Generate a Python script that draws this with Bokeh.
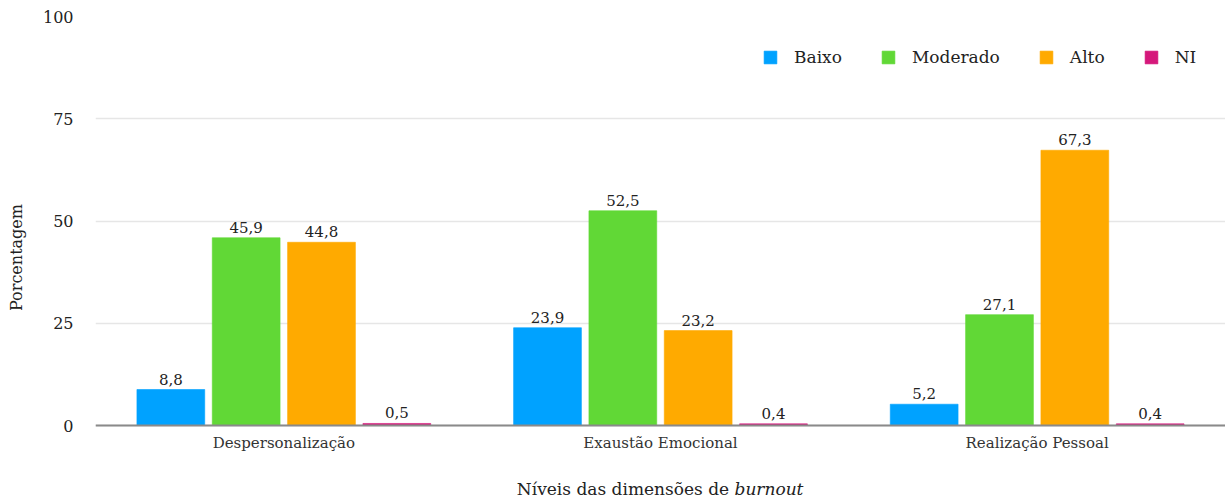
from bokeh.plotting import figure
from bokeh.models import ColumnDataSource, Label, Legend, LegendItem, FixedTicker, Range1d
from bokeh.transform import dodge
from bokeh.core.properties import value
from bokeh.embed import file_html
from bokeh.resources import INLINE

categories = ["Despersonalização", "Exaustão Emocional", "Realização Pessoal"]
series_names = ["Baixo", "Moderado", "Alto", "NI"]
baixo = [8.8, 23.9, 5.2]
moderado = [45.9, 52.5, 27.1]
alto = [44.8, 23.2, 67.3]
ni = [0.5, 0.4, 0.4]
y_ticks = [0, 25, 50, 75, 100]

colors = ["#00a2ff", "#61d836", "#ffaa00", "#d5187b"]
offsets = [-0.3, -0.1, 0.1, 0.3]
FONT = "DejaVu Serif"

def fmt(v):
    return f"{v:.1f}".replace(".", ",")

# frame: y=100 at 16px, y=0 at 425px, extends to bottom of canvas (498px)
px_per_unit = (425 - 16) / 100.0
y_bottom = -(498 - 425) / px_per_unit

p = figure(x_range=categories, y_range=Range1d(y_bottom, 100), width=1225, height=498,
           output_backend="svg", toolbar_location=None,
           min_border_left=95, min_border_right=0, min_border_top=16, min_border_bottom=0)
p.outline_line_color = None
p.background_fill_color = "white"
p.border_fill_color = "white"

p.xgrid.grid_line_color = None
p.ygrid.grid_line_color = "#e6e6e6"
p.ygrid.grid_line_width = 1.5
p.yaxis.ticker = FixedTicker(ticks=y_ticks)

p.yaxis.axis_line_color = None
p.yaxis.major_tick_line_color = None
p.yaxis.major_tick_out = 0
p.yaxis.minor_tick_line_color = None
p.yaxis.major_label_standoff = 22
p.yaxis.major_label_text_font = FONT
p.yaxis.major_label_text_font_size = "16px"
p.yaxis.major_label_text_color = "#222222"
p.yaxis.axis_label = "Porcentagem"
p.yaxis.axis_label_text_font = FONT
p.yaxis.axis_label_text_font_style = "normal"
p.yaxis.axis_label_text_font_size = "16px"
p.yaxis.axis_label_text_color = "#222222"
p.yaxis.axis_label_standoff = 14

p.xaxis.fixed_location = 0
p.xaxis.axis_line_color = "#8a8a8a"
p.xaxis.axis_line_width = 2
p.xaxis.major_tick_line_color = None
p.xaxis.major_tick_out = 0
p.xaxis.minor_tick_line_color = None
p.xaxis.major_label_standoff = 8
p.xaxis.major_label_text_font = FONT
p.xaxis.major_label_text_font_size = "15px"
p.xaxis.major_label_text_color = "#333333"

data = dict(cat=categories)
for name, vals in zip(series_names, [baixo, moderado, alto, ni]):
    data[name] = vals
    data[name + "_lbl"] = [fmt(v) for v in vals]
source = ColumnDataSource(data)

items = []
for name, off, col in zip(series_names, offsets, colors):
    r = p.vbar(x=dodge("cat", off, range=p.x_range), top=name, width=0.18, bottom=0,
               source=source, fill_color=col, line_color=col, line_alpha=0.6)
    p.text(x=dodge("cat", off, range=p.x_range), y=name, text=name + "_lbl", source=source,
           text_align="center", text_baseline="bottom", y_offset=-5,
           text_font=value(FONT), text_font_size="15px", text_color="#222222")
    items.append(LegendItem(label=name, renderers=[r]))

legend = Legend(items=items, orientation="horizontal", location=(667, 431),
                glyph_width=16, glyph_height=16, label_standoff=16, spacing=38,
                padding=0, margin=0, border_line_color=None, background_fill_alpha=0,
                label_text_font=FONT, label_text_font_size="17px", label_text_color="#222222",
                label_height=16)
p.add_layout(legend)

p.add_layout(Label(x=1.5, y=-15.5, x_offset=74, text="Níveis das dimensões de ",
                   text_align="right", text_baseline="middle", text_font=FONT,
                   text_font_size="17px", text_color="#222222"))
p.add_layout(Label(x=1.5, y=-15.5, x_offset=74, text="burnout",
                   text_align="left", text_baseline="middle", text_font=FONT,
                   text_font_style="italic", text_font_size="17px", text_color="#222222"))

open("out.html", "w").write(file_html(p, INLINE))
